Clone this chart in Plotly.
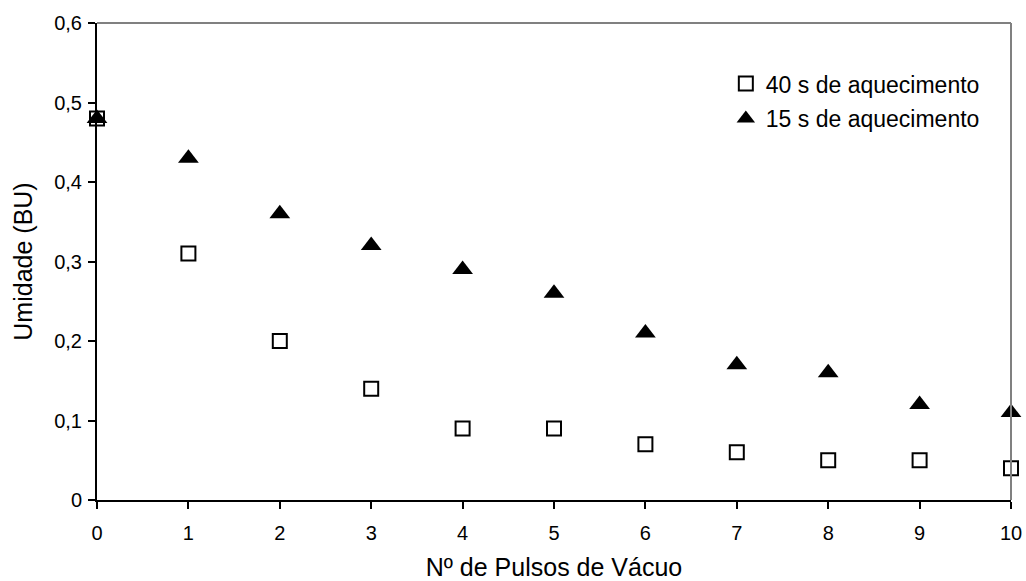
import plotly.graph_objects as go

pulsos = [0, 1, 2, 3, 4, 5, 6, 7, 8, 9, 10]
umid_40s = [0.48, 0.31, 0.20, 0.14, 0.09, 0.09, 0.07, 0.06, 0.05, 0.05, 0.04]
umid_15s = [0.48, 0.43, 0.36, 0.32, 0.29, 0.26, 0.21, 0.17, 0.16, 0.12, 0.11]
nome_40s = "40 s de aquecimento"
nome_15s = "15 s de aquecimento"
y_ticks = [0, 0.1, 0.2, 0.3, 0.4, 0.5, 0.6]
y_ticktext = ["0", "0,1", "0,2", "0,3", "0,4", "0,5", "0,6"]

font = "Liberation Sans, Arial, sans-serif"

fig = go.Figure()
fig.add_trace(go.Scatter(
    x=pulsos, y=umid_40s, mode="markers", name=nome_40s, cliponaxis=False,
    legendgroup="a",
    marker=dict(symbol="square", size=14, color="white",
                line=dict(color="black", width=2)),
))
fig.add_trace(go.Scatter(
    x=pulsos, y=umid_15s, mode="markers", name=nome_15s, cliponaxis=False,
    legendgroup="b",
    marker=dict(symbol="triangle-up", size=18, color="black",
                line=dict(color="black", width=0)),
))

fig.update_layout(
    width=1026, height=581,
    margin=dict(l=97, r=15, t=23, b=81),
    paper_bgcolor="white", plot_bgcolor="white",
    font=dict(family=font, size=20, color="black"),
    showlegend=True,
    legend=dict(x=0.688, y=0.918, xanchor="left", yanchor="top",
                bgcolor="rgba(0,0,0,0)", font=dict(size=23),
                itemwidth=30, tracegroupgap=2),
    xaxis=dict(
        range=[0, 10], tickmode="array", tickvals=pulsos,
        showgrid=False, zeroline=False, automargin=False,
        showline=True, linecolor="black", linewidth=2,
        ticks="outside", ticklen=7, tickwidth=2, tickcolor="black",
        tickfont=dict(size=20), ticklabelstandoff=7,
        title=dict(text="Nº de Pulsos de Vácuo", font=dict(size=25), standoff=19),
    ),
    yaxis=dict(
        range=[0, 0.6], tickmode="array", tickvals=y_ticks, ticktext=y_ticktext,
        showgrid=False, zeroline=False, automargin=False,
        showline=True, linecolor="black", linewidth=2,
        ticks="outside", ticklen=7, tickwidth=2, tickcolor="black",
        tickfont=dict(size=20), ticklabelstandoff=2,
        title=dict(text="Umidade (BU)", font=dict(size=25), standoff=14),
    ),
    shapes=[
        dict(type="line", xref="paper", yref="paper", x0=0, x1=1, y0=1, y1=1,
             line=dict(color="#808080", width=2)),
        dict(type="line", xref="paper", yref="paper", x0=1, x1=1, y0=0, y1=1,
             line=dict(color="#808080", width=2)),
    ],
)

fig.write_html("out.html", config={"displayModeBar": False},
               post_script="document.body.style.margin='0';document.body.style.overflow='hidden';")
